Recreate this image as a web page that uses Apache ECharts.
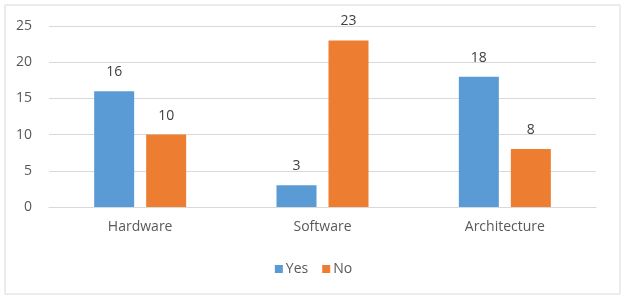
<!DOCTYPE html>
<html>
<head>
<meta charset="utf-8">
<script src="https://cdn.jsdelivr.net/npm/echarts@6/dist/echarts.min.js"></script>
<style>
  html, body { margin: 0; padding: 0; background: #fff; }
  #chart { width: 627px; height: 302px; }
</style>
</head>
<body>
<div id="chart"></div>
<script>
const categories = ['Hardware', 'Software', 'Architecture']
const yesValues = [16, 3, 18]
const noValues = [10, 23, 8]
const yTicks = [0, 5, 10, 15, 20, 25]

const myChart = echarts.init(document.getElementById('chart'))

const labelStyle = {
    show: true,
    position: 'top',
    distance: 12,
    color: '#404040',
    fontSize: 14,
    fontFamily: 'Open Sans'
}

const option = {
    animation: false,
    textStyle: { fontFamily: 'Open Sans' },
    graphic: [
        {
            type: 'rect',
            shape: { x: 5, y: 5, width: 615, height: 289 },
            style: { fill: 'none', stroke: '#d9d9d9', lineWidth: 1 },
            silent: true
        }
    ],
    grid: {
        left: 49,
        right: 31,
        top: 26,
        bottom: 95,
        containLabel: false
    },
    legend: {
        bottom: 21,
        left: 'center',
        itemWidth: 8,
        itemHeight: 8,
        itemGap: 14,
        icon: 'rect',
        textStyle: { color: '#595959', fontSize: 14, padding: [0, 0, 0, -2] },
        data: ['Yes', 'No']
    },
    xAxis: {
        type: 'category',
        data: categories,
        axisLine: { lineStyle: { color: '#d9d9d9' } },
        axisTick: { show: false },
        axisLabel: { color: '#595959', fontSize: 14, margin: 13 }
    },
    yAxis: {
        type: 'value',
        min: yTicks[0],
        max: yTicks[yTicks.length - 1],
        interval: 5,
        axisLine: { show: false },
        axisTick: { show: false },
        splitLine: { lineStyle: { color: '#d9d9d9' } },
        axisLabel: { color: '#595959', fontSize: 14, margin: 17 }
    },
    series: [
        {
            name: 'Yes',
            type: 'bar',
            data: yesValues,
            barWidth: 40,
            barGap: '30%',
            itemStyle: { color: '#5b9bd5' },
            label: labelStyle
        },
        {
            name: 'No',
            type: 'bar',
            data: noValues,
            barWidth: 40,
            itemStyle: { color: '#ed7d31' },
            label: labelStyle
        }
    ]
}

option && myChart.setOption(option)
</script>
</body>
</html>
